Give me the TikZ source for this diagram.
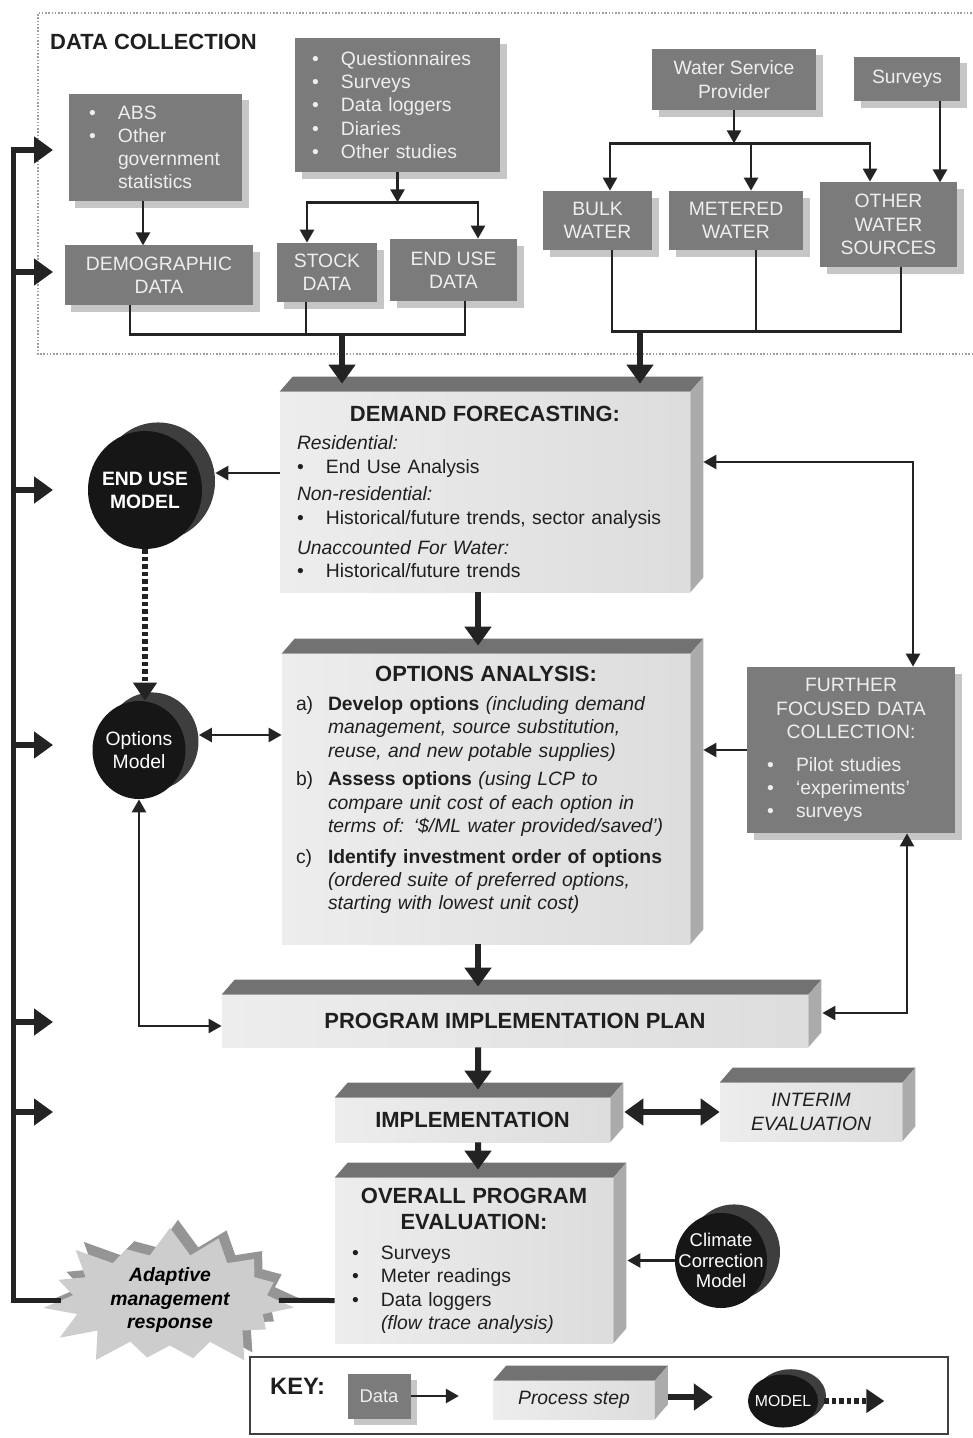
\documentclass[tikz,border=0pt]{standalone}
\usepackage{fontspec}
\setmainfont{Liberation Sans}
\usetikzlibrary{calc,arrows.meta,shapes.geometric,shapes.symbols,shadows}

\definecolor{datafill}{HTML}{7B7B7B}
\definecolor{datatext}{HTML}{EEEEEE}
\definecolor{datashadow}{HTML}{C6C6C6}
\definecolor{slabtop}{HTML}{727272}
\definecolor{slabside}{HTML}{ABABAB}
\definecolor{modelfront}{HTML}{161616}
\definecolor{modelside}{HTML}{3E3E3E}
\definecolor{arrowdark}{HTML}{232323}
\definecolor{burstfill}{HTML}{CDCDCD}
\definecolor{burstback}{HTML}{959595}

\newcommand{\normsize}{\fontsize{11}{13.2}\selectfont}
\newcommand{\titlesize}{\fontsize{12.5}{15.3}\selectfont\bfseries}
\newcommand{\bul}{\makebox[5.8mm][l]{\textbullet}}
\newcommand{\bulind}{\hspace*{5.8mm}}
\newcommand{\itemlab}[1]{\makebox[6.4mm][l]{#1}}
\newcommand{\labind}{\hspace*{6.4mm}}
% top and right faces of a process step
\newcommand{\slabfaces}[1]{%
  \fill[slabtop] (#1.north west) -- ++(13,-15) -- ($(#1.north east)+(13,-15)$) -- (#1.north east) -- cycle;
  \fill[slabside] (#1.north east) -- ++(13,-15) -- ($(#1.south east)+(13,-15)$) -- (#1.south east) -- cycle;
}

\tikzset{
  datbox/.style={fill=datafill, text=datatext, inner sep=0pt, align=center, font=\normsize,
    drop shadow={shadow xshift=1.3mm, shadow yshift=-1.3mm, fill=datashadow, opacity=1}},
  slab/.style={left color=gray!14, right color=gray!27, text=black!88, inner sep=0pt, font=\normsize},
  model/.style={ellipse, fill=modelfront, text=white, inner sep=-3mm, align=center, font=\normsize,
    drop shadow={shadow xshift=#1, shadow yshift=0.66*#1, fill=modelside, opacity=1}},
  model/.default=2.6mm,
  burst/.style={starburst, starburst points=15, starburst point height=6mm, random starburst=40,
    fill=burstfill, inner sep=0pt, align=center, font=\normsize\bfseries\itshape,
    drop shadow={shadow xshift=1.6mm, shadow yshift=1.6mm, fill=burstback, opacity=1}},
  thinline/.style={draw=arrowdark, line width=0.5mm},
  thinarrow/.style={thinline, -{Triangle[length=2.6mm,width=2.8mm]}},
  thinboth/.style={thinline, {Triangle[length=2.6mm,width=2.8mm]}-{Triangle[length=2.6mm,width=2.8mm]}},
  bigarrow/.style={draw=arrowdark, line width=1.2mm, -{Triangle[length=3.8mm,width=5.2mm]}},
  bigboth/.style={bigarrow, {Triangle[length=3.8mm,width=5.2mm]}-{Triangle[length=3.8mm,width=5.2mm]}},
  loopline/.style={draw=arrowdark, line width=1mm, line join=miter},
  dotarrow/.style={draw=arrowdark, line width=1.1mm, dash pattern=on 0.9mm off 0.6mm,
    -{Triangle[length=3.6mm,width=4.6mm]}},
  dcframe/.style={draw=gray!75, densely dotted, line width=0.3mm}
}

\begin{document}
\begin{tikzpicture}[x=0.2mm, y=-0.2mm, font=\normsize]
\useasboundingbox (0,0) rectangle (972,1438);

% data collection
\draw[dcframe] (975,13) -- (38,13) -- (38,354) -- (975,354);
\node[anchor=west, font=\fontsize{12.5}{15}\selectfont\bfseries, text=black!88] (dctitle) at (44,42) {DATA COLLECTION};

\node[datbox, minimum width=34.6mm, minimum height=21.4mm, text width=26.6mm, align=left] (abs) at (155.5,147.5)
  {\bul ABS\\\bul Other\\\bulind government\\\bulind statistics};
\node[datbox, minimum width=41mm, minimum height=26.8mm, text width=34.2mm, align=left] (quest) at (397.5,105)
  {\bul Questionnaires\\\bul Surveys\\\bul Data loggers\\\bul Diaries\\\bul Other studies};
\node[datbox, minimum width=37.6mm, minimum height=12mm] (demo) at (159,275) {DEMOGRAPHIC\\DATA};
\node[datbox, minimum width=20mm, minimum height=11.8mm] (stock) at (327,272.5) {STOCK\\DATA};
\node[datbox, minimum width=25.4mm, minimum height=12.4mm] (enduse) at (453.5,270) {END USE\\DATA};
\node[datbox, minimum width=32.8mm, minimum height=12.2mm] (wsp) at (734,79.5) {Water Service\\Provider};
\node[datbox, minimum width=21.2mm, minimum height=8.8mm] (surveys) at (907,79) {Surveys};
\node[datbox, minimum width=21.8mm, minimum height=11.8mm] (bulk) at (597.5,220.5) {BULK\\WATER};
\node[datbox, minimum width=26.8mm, minimum height=11.8mm] (metered) at (736,220.5) {METERED\\WATER};
\node[datbox, minimum width=27.4mm, minimum height=17mm] (other) at (888.5,224.5) {OTHER\\WATER\\SOURCES};

\draw[thinarrow] ([xshift=-2.5mm]abs.south) -- ++(0,44);
\draw[thinarrow] (quest.south) -- ++(0,30) coordinate (qsplit);
\draw[thinarrow] (qsplit) -| ([xshift=-4mm]stock.north);
\draw[thinarrow] (qsplit) -| ([xshift=4.9mm]enduse.north);
\draw[thinarrow] (wsp.south) -- ++(0,33) coordinate (wsplit);
\draw[thinarrow] (wsplit) -| ([xshift=2.5mm]bulk.north);
\draw[thinarrow] (wsplit) -| ([xshift=3mm]metered.north);
\draw[thinarrow] (wsplit) -| ([xshift=-3.7mm]other.north);
\draw[thinarrow] ([xshift=6.6mm]surveys.south) -- ++(0,81);

\draw[thinline] ([xshift=-5.8mm]demo.south) -- ++(0,29) -| ([xshift=2.3mm]enduse.south);
\draw[thinline] ([xshift=-4.2mm]stock.south) -- ++(0,32);
\draw[thinline] ([xshift=2.9mm]bulk.south) -- ++(0,81) -| ([xshift=2.5mm]other.south);
\draw[thinline] ([xshift=4mm]metered.south) -- ++(0,81);
\coordinate (dcjoin) at (342,334);
\coordinate (wjoin) at (640,331);

% process steps
\node[slab, minimum width=82mm, minimum height=40mm, text width=75.2mm, align=left] (df) at (485,492)
  {{\centering\titlesize DEMAND FORECASTING:\par}\vspace{2.7pt}
   \textit{Residential:}\\
   \bul End Use Analysis\\[2.7pt]
   \textit{Non-residential:}\\
   \bul Historical/future trends, sector analysis\\[3.8pt]
   \textit{Unaccounted For Water:}\\
   \bul Historical/future trends};
\slabfaces{df}

\node[slab, minimum width=81.6mm, minimum height=58mm, text width=76mm, align=left] (oa) at (486,799)
  {{\centering\titlesize OPTIONS ANALYSIS:\par}\vspace{3.2pt}
   \itemlab{a)}\textbf{Develop options} \textit{(including demand}\\
   \labind\textit{management, source substitution,}\\
   \labind\textit{reuse, and new potable supplies)}\\[3.2pt]
   \itemlab{b)}\textbf{Assess options} \textit{(using LCP to}\\
   \labind\textit{compare unit cost of each option in}\\
   \labind\textit{terms of: `\$/ML water provided/saved')}\\[4.4pt]
   \itemlab{c)}\textbf{Identify investment order of options}\\
   \labind\textit{(ordered suite of preferred options,}\\
   \labind\textit{starting with lowest unit cost)}\par\vspace{3.6mm}};
\slabfaces{oa}

\node[slab, minimum width=117.2mm, minimum height=10.4mm, font=\titlesize] (pip) at (515,1021) {PROGRAM IMPLEMENTATION PLAN};
\slabfaces{pip}
\node[slab, minimum width=55mm, minimum height=8.8mm, font=\titlesize] (impl) at (472.5,1120) {IMPLEMENTATION};
\slabfaces{impl}
\node[slab, minimum width=36.4mm, minimum height=11.6mm, align=center, font=\normsize\itshape] (interim) at (811,1112) {INTERIM\\EVALUATION};
\slabfaces{interim}
\node[slab, minimum width=55.6mm, minimum height=33mm, text width=48.8mm, align=left] (ope) at (474,1260.5)
  {{\centering\titlesize OVERALL PROGRAM\\EVALUATION:\par}\vspace{3.8pt}
   \bul Surveys\\
   \bul Meter readings\\
   \bul Data loggers\\
   \bulind\textit{(flow trace analysis)}};
\slabfaces{ope}

\node[datbox, minimum width=41.6mm, minimum height=33.2mm, text width=33.6mm, align=left] (further) at (851,750)
  {{\centering FURTHER\\FOCUSED DATA\\COLLECTION:\par}\vspace{5.5pt}
   \bul Pilot studies\\
   \bul `experiments'\\
   \bul surveys};

% models
\node[model, minimum width=22.8mm, minimum height=23.6mm, font=\normsize\bfseries] (endmod) at (145,490) {END USE\\MODEL};
\node[model, minimum width=18.6mm, minimum height=19.6mm] (optmod) at (139,750) {Options\\Model};
\node[model, minimum width=18.4mm, minimum height=19mm, font=\fontsize{10.5}{11.6}\selectfont] (climate) at (721,1260.5) {Climate\\Correction\\Model};
\node[burst, minimum width=51mm, minimum height=23mm] (adapt) at (170,1300) {Adaptive\\management\\response};

% connectors
\coordinate (dfside) at ($(df.east)+(13,-30)$);
\coordinate (oaside) at ($(oa.east)+(13,0)$);
\coordinate (pipside) at ($(pip.east)+(14,-8)$);
\coordinate (opeside) at ($(ope.east)+(14,0)$);
\coordinate (dfl) at ($(df.west)+(0,-19)$);
\coordinate (omr) at ($(optmod.east)+(13,-15)$);

\draw[thinarrow] (dfl) -- ($(dfl -| endmod.east)+(13,0)$);
\draw[dotarrow] (endmod.south) -- (endmod.south |- optmod.north);
\draw[thinboth] (omr) -- (omr -| oa.west);
\draw[thinboth] (optmod.south) |- ($(pip.west)+(0,5)$);
\draw[thinboth] (dfside) -| ($(further.north)+(62,0)$);
\draw[thinarrow] (further.west) -- (further.west -| oaside);
\draw[thinboth] (pipside) -| ($(further.south)+(56,0)$);
\draw[thinarrow] (climate.west) -- (climate.west -| opeside);

\draw[bigarrow] (dcjoin) -- ($(dcjoin |- df.north)+(0,-8)$);
\draw[bigarrow] (wjoin) -- ($(wjoin |- df.north)+(0,-8)$);
\draw[bigarrow] ($(df.south)+(-7,0)$) -- ($(oa.north)+(-8,-8)$);
\draw[bigarrow] ($(oa.south)+(-8,0)$) -- ($(pip.north)+(-37,-8)$);
\draw[bigarrow] ($(pip.south)+(-37,0)$) -- ($(impl.north)+(5.5,-8)$);
\draw[bigarrow] ($(impl.south)+(5.5,0)$) -- ($(ope.north)+(4,-8)$);
\draw[bigboth] ($(impl.east)+(14,-8)$) -- (interim.west);

% feedback loop
\coordinate (looptop) at (13,147);
\draw[loopline] ([yshift=-8mm]ope.west) -- (adapt);
\draw[loopline] (adapt) -| (looptop);
\foreach \yy [count=\i] in {150,272,490,745,1022,1112} {
  \coordinate (br\i) at (13,\yy);
  \draw[bigarrow] (br\i) -- ++(40,0);
}

% key
\node[draw=black!75, line width=0.4mm, minimum width=139.6mm, minimum height=15.4mm] (keybox) at (599,1395.5) {};
\node[anchor=west, font=\fontsize{13.5}{16}\selectfont\bfseries, text=black!88] (keytitle) at (264,1386) {KEY:};
\node[datbox, minimum width=12.6mm, minimum height=9mm, font=\fontsize{10.5}{12}\selectfont] (keydata) at (379,1396) {Data};
\draw[thinarrow] (keydata.east) -- ++(48,0);
\node[slab, minimum width=32.2mm, minimum height=7.6mm, font=\normsize\itshape] (keyproc) at (574,1400) {Process step};
\slabfaces{keyproc}
\draw[bigarrow] ($(keyproc.east)+(13,-3)$) -- ++(45,0);
\node[model=1.6mm, minimum width=14mm, minimum height=10.6mm, font=\fontsize{9}{11}\selectfont] (keymod) at (783,1401) {MODEL};
\draw[dotarrow] ($(keymod.east)+(6,0)$) -- ++(60,0);
\end{tikzpicture}
\end{document}
